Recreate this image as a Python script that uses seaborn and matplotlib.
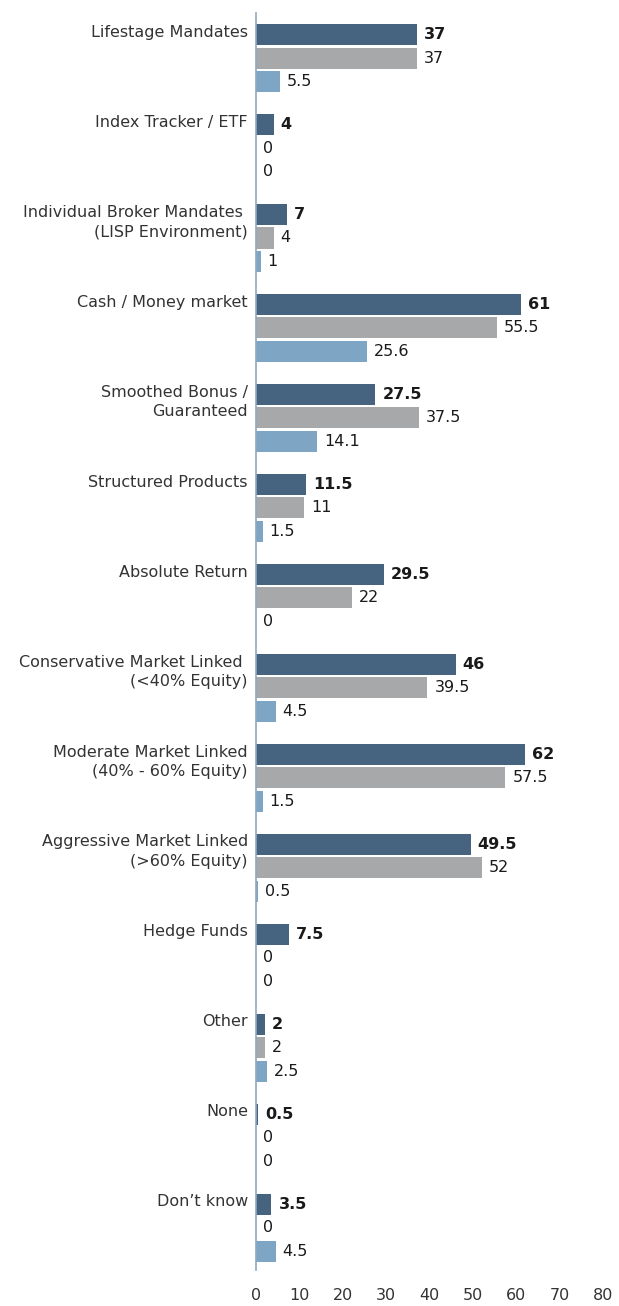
import numpy as np
import pandas as pd
import matplotlib.pyplot as plt
import seaborn as sns

# категории и значения трёх серий
categories = [
    "Lifestage Mandates",
    "Index Tracker / ETF",
    "Individual Broker Mandates \n(LISP Environment)",
    "Cash / Money market",
    "Smoothed Bonus /\nGuaranteed",
    "Structured Products",
    "Absolute Return",
    "Conservative Market Linked \n(<40% Equity)",
    "Moderate Market Linked\n(40% - 60% Equity)",
    "Aggressive Market Linked\n(>60% Equity)",
    "Hedge Funds",
    "Other",
    "None",
    "Don\u2019t know",
]
series_names = ["Series 1", "Series 2", "Series 3"]
series_1 = [37, 4, 7, 61, 27.5, 11.5, 29.5, 46, 62, 49.5, 7.5, 2, 0.5, 3.5]
series_2 = [37, 0, 4, 55.5, 37.5, 11, 22, 39.5, 57.5, 52, 0, 2, 0, 0]
series_3 = [5.5, 0, 1, 25.6, 14.1, 1.5, 0, 4.5, 1.5, 0.5, 0, 2.5, 0, 4.5]
x_ticks = [0, 10, 20, 30, 40, 50, 60, 70, 80]

colors = ["#46637f", "#a7a8aa", "#7fa5c4"]

df = pd.DataFrame({
    "category": categories * 3,
    "series": np.repeat(series_names, len(categories)),
    "value": series_1 + series_2 + series_3,
})

sns.set_style("white")
plt.rcParams["font.family"] = ["DejaVu Sans"]

fig = plt.figure(figsize=(6.19, 13.06), dpi=100)
ax = fig.add_axes([0.414, 0.0276, 0.56, 0.9624])

sns.barplot(data=df, y="category", x="value", hue="series", orient="h",
            palette=colors, width=0.78, gap=0.1, legend=False, ax=ax,
            saturation=1, linewidth=0)

for i, cont in enumerate(ax.containers):
    ax.bar_label(cont, fmt="%g", padding=5, fontsize=11.5, color="#1a1a1a",
                 fontweight="bold" if i == 0 else "normal")

ax.set_xlim(0, 80)
ax.set_ylim(13.47, -0.5)
ax.set_xticks(x_ticks)
ax.tick_params(axis="x", length=0, pad=13, labelsize=11.5, labelcolor="#333333")

# подписи категорий выровнены по первому столбику группы
ax.set_yticks(np.arange(len(categories)) - 0.37)
ax.set_yticklabels(categories, va="top", fontsize=11.5, color="#333333",
                   linespacing=1.4)
ax.tick_params(axis="y", length=0, pad=6)

ax.set_xlabel("")
ax.set_ylabel("")
for s in ["top", "right", "bottom"]:
    ax.spines[s].set_visible(False)
ax.spines["left"].set_color("#8fa9c0")
ax.spines["left"].set_linewidth(1.2)

fig.savefig("out.png", dpi=100)
